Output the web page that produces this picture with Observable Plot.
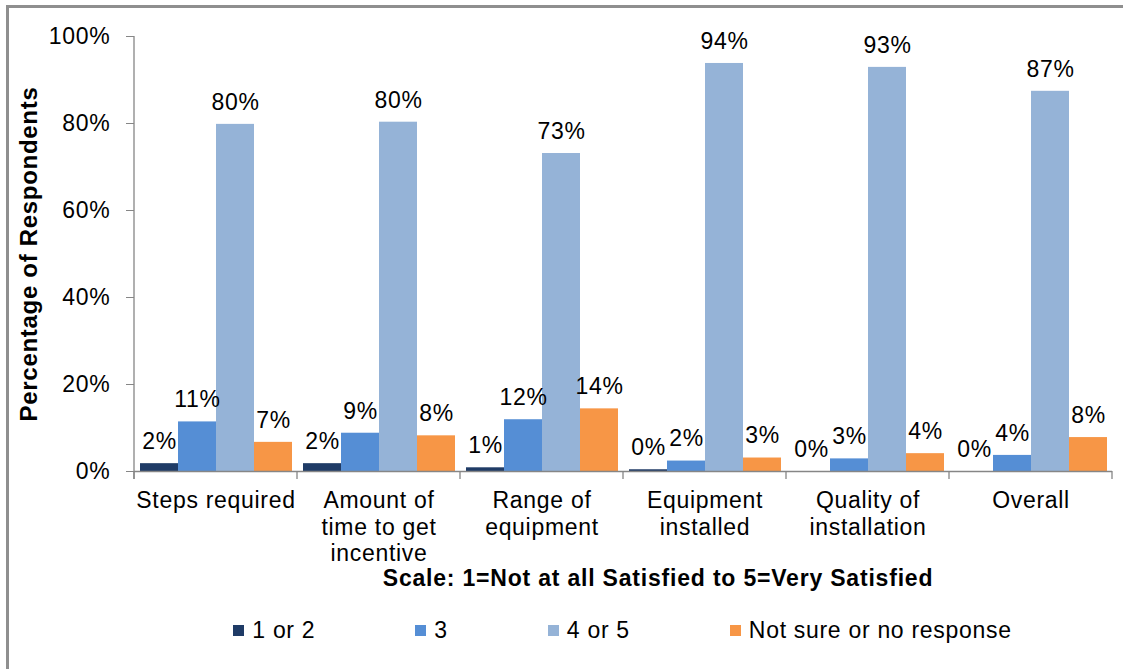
<!DOCTYPE html>
<html>
<head>
<meta charset="utf-8">
<script src="https://cdn.jsdelivr.net/npm/d3@7"></script>
<script src="https://cdn.jsdelivr.net/npm/@observablehq/plot@0.6"></script>
<style>
  html, body { margin: 0; padding: 0; background: #fff; overflow: hidden; width: 1123px; height: 669px; }
  #frame { position: absolute; left: 6px; top: 5px; width: 1200px; height: 800px;
           border-left: 3px solid #8f8f8f; border-top: 3px solid #8f8f8f; }
  #chart { position: absolute; left: 0; top: 0; }
  #chart svg text { letter-spacing: 0.7px; }
  #xlabel { position: absolute; left: 658px; top: 565px; transform: translateX(-50%); white-space: nowrap;
            font-family: "Liberation Sans", Arial, sans-serif; font-weight: bold; font-size: 23px;
            letter-spacing: 0.8px; color: #000; }
  #legend { position: absolute; left: 133px; width: 979px; top: 617px; display: flex; justify-content: center;
            column-gap: 100px; font-family: "Liberation Sans", Arial, sans-serif; font-size: 23px;
            letter-spacing: 0.7px; color: #000; }
  .item { display: flex; align-items: center; white-space: nowrap; }
  .sw { width: 11px; height: 11px; margin-right: 8px; }
</style>
</head>
<body>
<div id="frame"></div>
<div id="chart"></div>
<div id="xlabel"></div>
<div id="legend"></div>
<script>
// ---- data ----
const categories = ["Steps required", "Amount of time to get incentive", "Range of equipment",
                    "Equipment installed", "Quality of installation", "Overall"];
const categoryLabels = ["Steps required", "Amount of\ntime to get\nincentive", "Range of\nequipment",
                        "Equipment\ninstalled", "Quality of\ninstallation", "Overall"];
const series = ["1 or 2", "3", "4 or 5", "Not sure or no response"];
const values12 = [1.8, 1.8, 0.85, 0.4, 0, 0];
const values3 = [11.4, 8.8, 11.9, 2.4, 2.9, 3.7];
const values45 = [79.8, 80.3, 73.1, 93.8, 92.9, 87.4];
const valuesNS = [6.7, 8.2, 14.4, 3.1, 4.1, 7.8];
const yTicks = [0, 20, 40, 60, 80, 100];
const colors = ["#1F3B66", "#558ED5", "#95B3D7", "#F79646"];
const yTitle = "Percentage of Respondents";
const xTitle = "Scale: 1=Not at all Satisfied to 5=Very Satisfied";

const seriesValues = [values12, values3, values45, valuesNS];
const rows = categories.flatMap((c, i) =>
  series.map((s, j) => ({category: c, series: s, value: seriesValues[j][i]})));

const FONT = "'Liberation Sans', Arial, sans-serif";

const chart = Plot.plot({
  width: 1123,
  height: 600,
  marginTop: 36,
  marginLeft: 133,
  marginRight: 11,
  marginBottom: 129,
  style: {fontFamily: FONT, fontSize: "23px", color: "#000", background: "transparent"},
  fx: {domain: categories, padding: 0, axis: null},
  x: {domain: series, paddingInner: 0, paddingOuter: 0.14, axis: null},
  y: {domain: [0, 100], axis: null},
  color: {domain: series, range: colors},
  marks: [
    Plot.barY(rows, {fx: "category", x: "series", y: "value", fill: "series"}),
    Plot.ruleY([0], {stroke: "#868686", strokeWidth: 1.3}),
    Plot.axisY({ticks: yTicks, tickFormat: d => d + "%", tickSize: 8, tickPadding: 16,
                stroke: "#868686", label: null, fontSize: 23}),
    Plot.text(rows, {fx: "category", x: "series", y: "value",
                     text: d => Math.round(d.value) + "%", dy: -22, fontSize: 23, fill: "#000"}),
    Plot.text(categories, {fx: d => d, text: (d, i) => categoryLabels[i], frameAnchor: "bottom",
                           lineAnchor: "top", dy: 17, lineHeight: 1.17, fontSize: 23, fill: "#000"}),
    Plot.text([yTitle], {fx: () => categories[0], frameAnchor: "left", textAnchor: "middle",
                         rotate: -90, dx: -105, fontWeight: "bold", fontSize: 24, fill: "#000"})
  ]
});

// axis line and category boundary ticks, derived from the plot's own scales
const fxs = chart.scale("fx");
const ys = chart.scale("y");
const y0 = ys.apply(0), y100 = ys.apply(100);
const xs = categories.map(c => fxs.apply(c));
xs.push(fxs.apply(categories[categories.length - 1]) + fxs.bandwidth);
const g = d3.select(chart).append("g").attr("stroke", "#868686").attr("stroke-width", 1.3).attr("fill", "none");
g.append("line").attr("x1", xs[0]).attr("x2", xs[0]).attr("y1", y100).attr("y2", y0 + 8);
xs.forEach(x => g.append("line").attr("x1", x).attr("x2", x).attr("y1", y0).attr("y2", y0 + 8));

document.getElementById("chart").appendChild(chart);
document.getElementById("xlabel").textContent = xTitle;

const legend = document.getElementById("legend");
series.forEach((s, i) => {
  const item = document.createElement("div");
  item.className = "item";
  const sw = document.createElement("span");
  sw.className = "sw";
  sw.style.background = colors[i];
  const t = document.createElement("span");
  t.textContent = s;
  item.appendChild(sw);
  item.appendChild(t);
  legend.appendChild(item);
});
</script>
</body>
</html>
